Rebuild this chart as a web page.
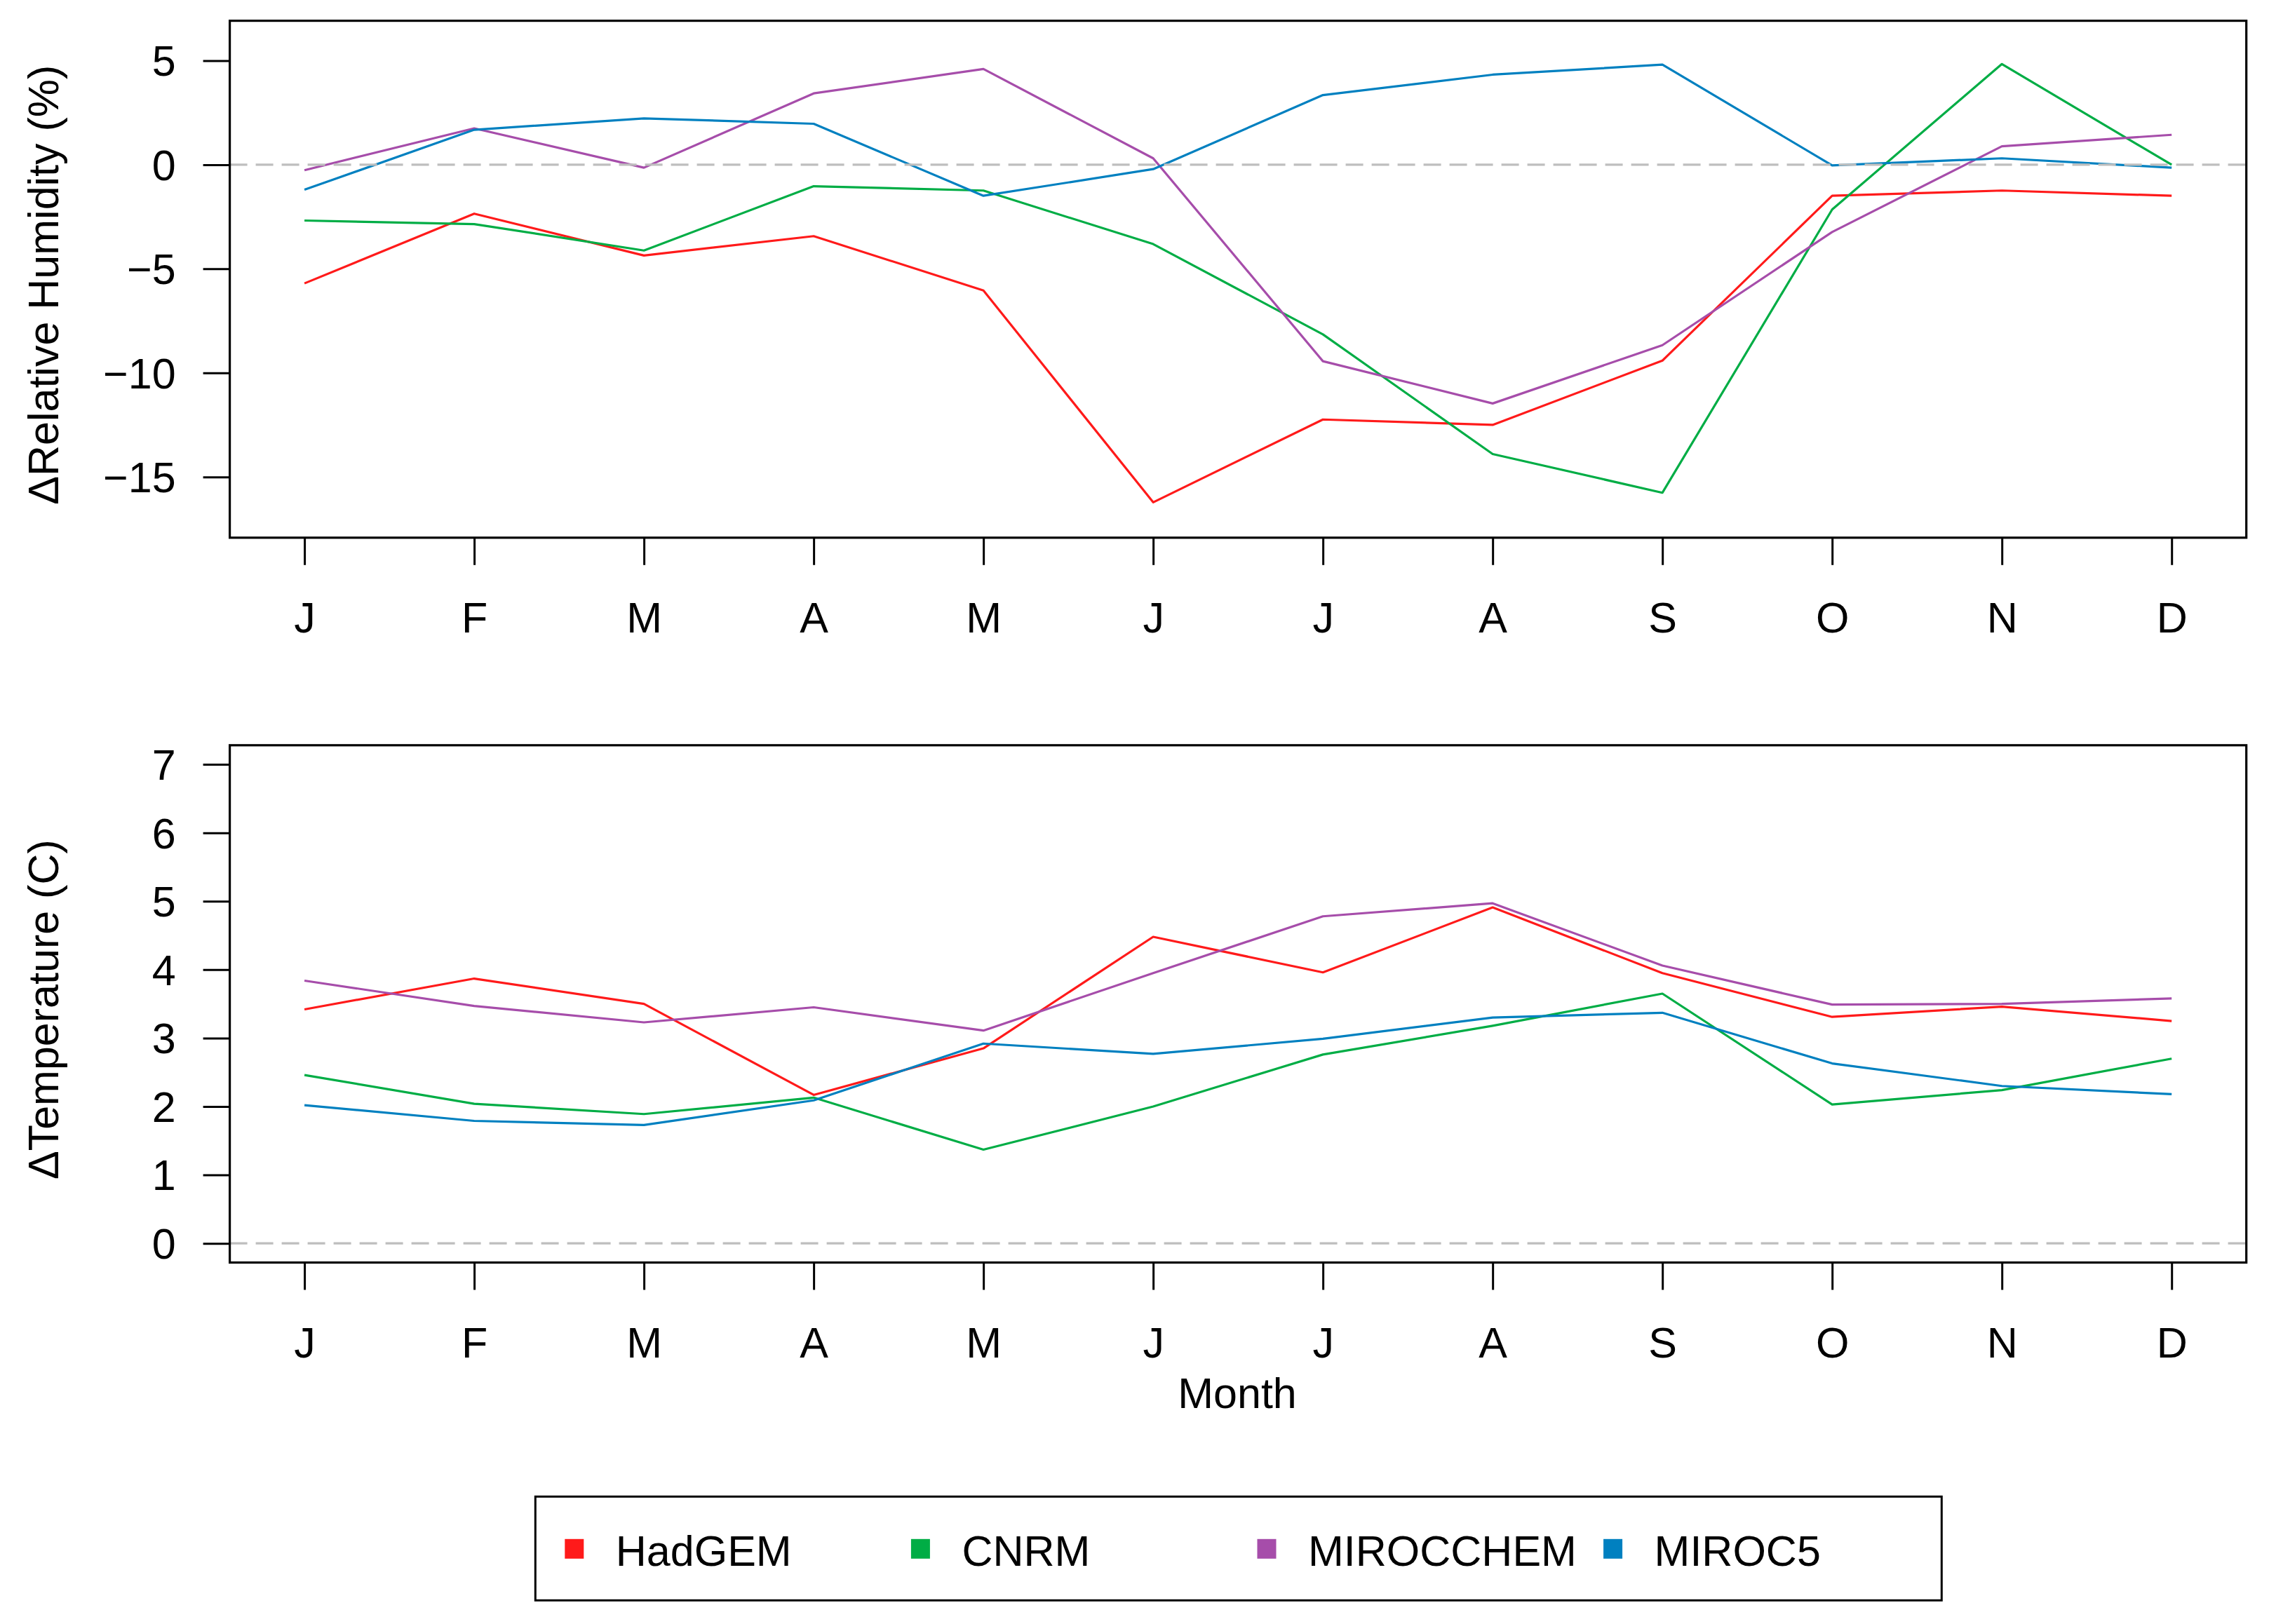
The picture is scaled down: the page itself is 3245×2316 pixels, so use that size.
<!DOCTYPE html>
<html>
<head>
<meta charset="utf-8">
<script src="https://cdn.jsdelivr.net/npm/d3@7"></script>
<style>
  body { margin: 0; background: #fff; }
  text { font-family: 'Liberation Sans', Arial, sans-serif; fill: #000; }
</style>
</head>
<body>
<div id="chart"></div>
<script>
const width = 3245
const height = 2316

// data
const months = ['J', 'F', 'M', 'A', 'M', 'J', 'J', 'A', 'S', 'O', 'N', 'D']
const models = ['HadGEM', 'CNRM', 'MIROCCHEM', 'MIROC5']
const modelColors = ['#ff1a1a', '#00ad45', '#a64daa', '#0080c0']

// change in relative humidity (%)
const rhHadGEM = [-5.70, -2.35, -4.36, -3.43, -6.04, -16.22, -12.24, -12.50, -9.41, -1.49, -1.24, -1.49]
const rhCNRM = [-2.68, -2.85, -4.12, -1.03, -1.24, -3.81, -8.15, -13.90, -15.76, -2.15, 4.84, 0.0]
const rhMIROCCHEM = [-0.26, 1.75, -0.14, 3.43, 4.60, 0.31, -9.44, -11.47, -8.67, -3.23, 0.89, 1.44]
const rhMIROC5 = [-1.20, 1.68, 2.23, 1.97, -1.49, -0.21, 3.35, 4.33, 4.81, -0.03, 0.31, -0.14]

// change in temperature (C)
const tHadGEM = [3.42, 3.87, 3.50, 2.17, 2.85, 4.48, 3.96, 4.91, 3.95, 3.31, 3.46, 3.25]
const tCNRM = [2.46, 2.04, 1.89, 2.13, 1.37, 2.00, 2.76, 3.18, 3.65, 2.03, 2.24, 2.70]
const tMIROCCHEM = [3.84, 3.47, 3.23, 3.45, 3.11, 3.95, 4.78, 4.97, 4.06, 3.49, 3.50, 3.58]
const tMIROC5 = [2.02, 1.79, 1.73, 2.09, 2.92, 2.77, 2.99, 3.30, 3.37, 2.63, 2.30, 2.18]

const rhTicks = [5, 0, -5, -10, -15]
const tTicks = [0, 1, 2, 3, 4, 5, 6, 7]

const fontSize = 61
const left = 327.6
const right = 3202.7

const svg = d3
  .select('#chart')
  .append('svg')
  .attr('width', width)
  .attr('height', height)

// R style: 4% padding around xlim c(1,12)
const xScale = d3
  .scaleLinear()
  .domain([0.56, 12.44])
  .range([left, right])

function drawPanel(opts) {
  const yScale = d3
    .scaleLinear()
    .domain(opts.domain)
    .range([opts.bottom, opts.top])

  const g = svg.append('g')

  const line = d3
    .line()
    .x((d, i) => xScale(i + 1))
    .y(d => yScale(d))

  g.selectAll('.series')
    .data(opts.series)
    .enter()
    .append('path')
    .attr('class', 'series')
    .attr('d', d => line(d))
    .attr('fill', 'none')
    .attr('stroke', (d, i) => modelColors[i])
    .attr('stroke-width', 3.2)
    .attr('stroke-linejoin', 'round')

  // dashed zero line
  g.append('line')
    .attr('x1', left)
    .attr('x2', right)
    .attr('y1', yScale(0))
    .attr('y2', yScale(0))
    .attr('stroke', '#bebebe')
    .attr('stroke-width', 3.3)
    .attr('stroke-dasharray', '25 12')

  // box
  g.append('rect')
    .attr('x', left)
    .attr('y', opts.top)
    .attr('width', right - left)
    .attr('height', opts.bottom - opts.top)
    .attr('fill', 'none')
    .attr('stroke', '#000')
    .attr('stroke-width', 3.2)

  const yAxis = d3
    .axisLeft(yScale)
    .tickValues(opts.ticks)
    .tickSize(38)
    .tickPadding(39)
    .tickFormat(d => String(d).replace('-', '\u2212'))

  const ya = g
    .append('g')
    .attr('transform', `translate(${left},0)`)
    .call(yAxis)
  ya.select('.domain').remove()
  ya.selectAll('line').attr('stroke-width', 3)
  ya.selectAll('text')
    .attr('font-size', fontSize)
    .attr('font-family', "'Liberation Sans', Arial, sans-serif")
    .attr('dy', '0.35em')

  const xAxis = d3
    .axisBottom(xScale)
    .tickValues(d3.range(1, 13))
    .tickSize(39)
    .tickPadding(53)
    .tickFormat(d => months[d - 1])

  const xa = g
    .append('g')
    .attr('transform', `translate(0,${opts.bottom})`)
    .call(xAxis)
  xa.select('.domain').remove()
  xa.selectAll('line').attr('stroke-width', 3)
  xa.selectAll('text')
    .attr('font-size', fontSize)
    .attr('font-family', "'Liberation Sans', Arial, sans-serif")

  g.append('text')
    .attr('transform', `translate(83,${(opts.top + opts.bottom) / 2 + 8}) rotate(-90)`)
    .attr('text-anchor', 'middle')
    .attr('font-size', fontSize)
    .text(opts.title)
}

drawPanel({
  top: 29.6,
  bottom: 766.8,
  domain: [-17.92, 6.92],
  ticks: rhTicks,
  series: [rhHadGEM, rhCNRM, rhMIROCCHEM, rhMIROC5],
  title: '\u0394Relative Humidity (%)'
})

drawPanel({
  top: 1062.8,
  bottom: 1800.5,
  domain: [-0.28, 7.28],
  ticks: tTicks,
  series: [tHadGEM, tCNRM, tMIROCCHEM, tMIROC5],
  title: '\u0394Temperature (C)'
})

svg.append('text')
  .attr('x', 1764)
  .attr('y', 2008)
  .attr('text-anchor', 'middle')
  .attr('font-size', fontSize)
  .text('Month')

// legend (horizontal, filled squares)
const legend = svg.append('g')

legend.append('rect')
  .attr('x', 763.3)
  .attr('y', 2134.3)
  .attr('width', 2768.3 - 763.3)
  .attr('height', 2282.3 - 2134.3)
  .attr('fill', '#fff')
  .attr('stroke', '#000')
  .attr('stroke-width', 3)

const legendX = d3
  .scalePoint()
  .domain(models)
  .range([818.8, 2299.6])

const items = legend
  .selectAll('.item')
  .data(models)
  .enter()
  .append('g')
  .attr('class', 'item')
  .attr('transform', d => `translate(${legendX(d)},2208.8)`)

items.append('rect')
  .attr('x', -13.5)
  .attr('y', -14)
  .attr('width', 27)
  .attr('height', 28)
  .attr('fill', (d, i) => modelColors[i])

items.append('text')
  .attr('x', 59)
  .attr('y', 24.5)
  .attr('font-size', fontSize)
  .text(d => d)
</script>
</body>
</html>
